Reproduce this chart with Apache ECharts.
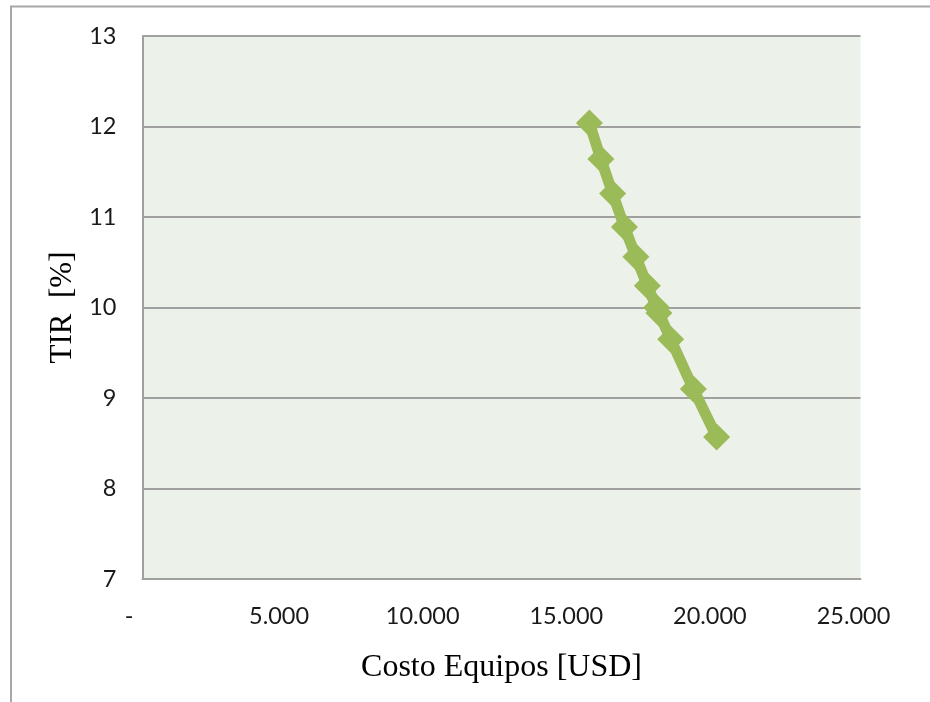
<!DOCTYPE html>
<html>
<head>
<meta charset="utf-8">
<title>TIR vs Costo Equipos</title>
<script src="https://cdn.jsdelivr.net/npm/echarts@6.0.0/dist/echarts.min.js"></script>
<style>
  html, body { margin: 0; padding: 0; background: #ffffff; }
  #chart { width: 930px; height: 702px; }
</style>
</head>
<body>
<div id="chart"></div>
<script>
// Equipment cost (USD) and the resulting internal rate of return (%)
var costoEquipos = [15560, 15960, 16370, 16780, 17180, 17580, 17900, 17980, 18390, 19180, 19990];
var tirPct = [12.04, 11.64, 11.26, 10.89, 10.56, 10.24, 10.00, 9.94, 9.65, 9.10, 8.57];

// Axis ranges and tick labels
var xTicks = [0, 5000, 10000, 15000, 20000, 25000];
var xTickLabels = ['-', '5.000', '10.000', '15.000', '20.000', '25.000'];
var yTicks = [7, 8, 9, 10, 11, 12, 13];

var xAxisTitle = 'Costo Equipos [USD]';
var yAxisTitle = 'TIR  [%]';

var points = costoEquipos.map(function (c, i) { return [c, tirPct[i]]; });

var gridColor = '#a0a0a0';
var tickFont = 'Lato, "Open Sans", sans-serif';
var titleFont = '"Liberation Serif", "DejaVu Serif", serif';
var tickSize = 23.5;

var chart = echarts.init(document.getElementById('chart'), null, { renderer: 'canvas' });

chart.setOption({
  animation: false,
  backgroundColor: '#ffffff',
  graphic: [
    {
      type: 'rect',
      shape: { x: 11, y: 6.5, width: 940, height: 720 },
      style: { fill: 'none', stroke: '#a8a8a8', lineWidth: 2 },
      silent: true,
      z: -10
    }
  ],
  grid: {
    left: 142.5,
    top: 36,
    right: 69.5,
    bottom: 123,
    show: true,
    backgroundColor: '#ECF1EA',
    borderWidth: 0
  },
  xAxis: {
    type: 'value',
    min: xTicks[0],
    max: xTicks[xTicks.length - 1],
    interval: xTicks[1] - xTicks[0],
    name: xAxisTitle,
    nameLocation: 'middle',
    nameGap: 73,
    nameTextStyle: { fontFamily: titleFont, fontSize: 32, color: '#000000' },
    axisLine: { show: true, lineStyle: { color: gridColor, width: 2 } },
    axisTick: { show: false },
    splitLine: { show: false },
    axisLabel: {
      margin: 25,
      fontFamily: tickFont,
      fontSize: tickSize,
      color: '#1a1a1a',
      formatter: function (v) {
        var i = xTicks.indexOf(v);
        var txt = i >= 0 ? xTickLabels[i] : '';
        return v === 0 ? '{dash|' + txt + '}' : '{num|' + txt + '}';
      },
      rich: {
        num: { fontFamily: tickFont, fontSize: tickSize, color: '#1a1a1a', padding: [0, 14, 0, 0] },
        dash: { fontFamily: tickFont, fontSize: tickSize, color: '#1a1a1a', padding: [0, 27, 0, 0] }
      }
    }
  },
  yAxis: {
    type: 'value',
    min: yTicks[0],
    max: yTicks[yTicks.length - 1],
    interval: 1,
    name: yAxisTitle,
    nameLocation: 'middle',
    nameGap: 62,
    nameTextStyle: { fontFamily: titleFont, fontSize: 31, color: '#000000' },
    axisLine: { show: true, lineStyle: { color: gridColor, width: 2 } },
    axisTick: { show: false },
    splitLine: { show: true, lineStyle: { color: gridColor, width: 2 } },
    axisLabel: {
      margin: 26,
      fontFamily: tickFont,
      fontSize: tickSize,
      color: '#1a1a1a'
    }
  },
  series: [
    {
      type: 'line',
      data: points,
      symbol: 'diamond',
      symbolSize: 27,
      lineStyle: { color: '#9BBB59', width: 11 },
      itemStyle: { color: '#9BBB59' },
      z: 5
    }
  ]
});
</script>
</body>
</html>
